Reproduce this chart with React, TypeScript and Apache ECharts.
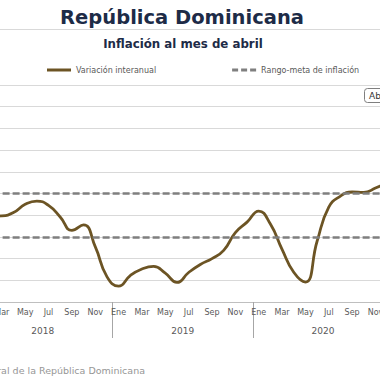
import React, { useEffect, useRef } from 'react';
import * as echarts from 'echarts';

const YEARS = ['2018', '2019', '2020'];
const MONTHS = ['Ene', 'Feb', 'Mar', 'Abr', 'May', 'Jun', 'Jul', 'Ago', 'Sep', 'Oct', 'Nov', 'Dic'];

const INFLATION_2018 = [4.1, 3.95, 3.97, 4.12, 4.5, 4.65, 4.45, 3.92, 3.3, 3.55, 2.55, 1.17];
const INFLATION_2019 = [0.73, 1.22, 1.52, 1.64, 1.33, 0.9, 1.36, 1.73, 2.0, 2.38, 3.2, 3.68];
const INFLATION_2020 = [4.19, 3.59, 2.43, 1.37, 0.92, 2.8, 4.37, 4.88, 5.07, 5.05, 5.25, 5.5];

const TARGET_UPPER = 5;
const TARGET_LOWER = 3;

const Y_MIN = 0;
const Y_MAX = 10;
const Y_STEP = 1;

const TITLE = 'República Dominicana';
const SUBTITLE = 'Inflación al mes de abril';
const SOURCE = 'Fuente: Banco Central de la República Dominicana';
const SERIES_MAIN = 'Variación interanual';
const SERIES_TARGET = 'Rango-meta de inflación';

const FONT = '"DejaVu Sans", sans-serif';
const NAVY = '#1d2b47';
const BROWN = '#6c5424';
const GRAY_TEXT = '#595959';

// the chart canvas is wider than the window and shifted left (cropped view)
const SHIFT = 32;
const CHART_W = 425;

export default function App() {
  const ref = useRef<HTMLDivElement>(null);

  useEffect(() => {
    if (!ref.current) return;
    const chart = echarts.init(ref.current, undefined, { renderer: 'svg' });

    const categories: string[] = [];
    YEARS.forEach(() => MONTHS.forEach((m) => categories.push(m)));
    const values = [...INFLATION_2018, ...INFLATION_2019, ...INFLATION_2020];

    chart.setOption({
      animation: false,
      backgroundColor: '#ffffff',
      textStyle: { fontFamily: FONT },
      legend: {
        left: 47 + SHIFT,
        top: 66,
        padding: 0,
        itemWidth: 24,
        itemHeight: 3,
        itemGap: 76,
        textStyle: { fontFamily: FONT, fontSize: 8, color: GRAY_TEXT },
        data: [
          { name: SERIES_MAIN, icon: 'path://M0,0H24V3H0Z' },
          { name: SERIES_TARGET, icon: 'path://M0,0H6V3H0Z M9,0H15V3H9Z M18,0H24V3H18Z' },
        ],
      },
      grid: { left: 0, right: 0, top: 85, bottom: 78 },
      xAxis: [
        {
          type: 'category',
          data: categories,
          boundaryGap: true,
          axisLine: { show: true, lineStyle: { color: '#bfbfbf', width: 1 } },
          axisTick: { show: false },
          axisLabel: {
            interval: 1,
            margin: 6,
            fontFamily: FONT,
            fontSize: 8,
            color: GRAY_TEXT,
          },
          splitLine: { show: false },
        },
        {
          type: 'category',
          data: YEARS,
          position: 'bottom',
          boundaryGap: true,
          axisLine: { show: false },
          axisTick: {
            show: true,
            interval: 0,
            length: 36,
            lineStyle: { color: '#a6a6a6', width: 1 },
          },
          axisLabel: {
            interval: 0,
            margin: 24,
            fontFamily: FONT,
            fontSize: 9,
            color: GRAY_TEXT,
          },
          splitLine: { show: false },
        },
      ],
      yAxis: {
        type: 'value',
        min: Y_MIN,
        max: Y_MAX,
        interval: Y_STEP,
        axisLine: { show: false },
        axisTick: { show: false },
        axisLabel: { show: false },
        splitLine: { show: true, lineStyle: { color: '#d9d9d9', width: 1 } },
      },
      series: [
        {
          name: SERIES_TARGET,
          type: 'line',
          data: [],
          symbol: 'none',
          z: 2,
          lineStyle: { color: '#7f7f7f', width: 2.5, type: [6, 3] },
          itemStyle: { color: '#7f7f7f' },
          markLine: {
            silent: true,
            symbol: 'none',
            label: { show: false },
            lineStyle: { color: '#7f7f7f', width: 2.5, type: [7, 3] },
            data: [{ yAxis: TARGET_UPPER }, { yAxis: TARGET_LOWER }],
          },
        },
        {
          name: SERIES_MAIN,
          type: 'line',
          data: values,
          xAxisIndex: 0,
          smooth: 0.5,
          symbol: 'none',
          showSymbol: false,
          z: 3,
          lineStyle: { color: BROWN, width: 2.8 },
          itemStyle: { color: BROWN },
        },
      ],
      graphic: [
        {
          type: 'text',
          x: 182 + SHIFT,
          y: 17,
          style: {
            text: TITLE,
            fill: NAVY,
            fontFamily: FONT,
            fontSize: 19.5,
            fontWeight: 'bold',
            align: 'center',
            textAlign: 'center',
            verticalAlign: 'middle',
            textVerticalAlign: 'middle',
          },
        },
        {
          type: 'line',
          shape: { x1: SHIFT, y1: 29.5, x2: SHIFT + 380, y2: 29.5 },
          style: { stroke: '#d9d9d9', lineWidth: 1 },
        },
        {
          type: 'text',
          x: 183 + SHIFT,
          y: 44,
          style: {
            text: SUBTITLE,
            fill: NAVY,
            fontFamily: FONT,
            fontSize: 11.8,
            fontWeight: 'bold',
            align: 'center',
            textAlign: 'center',
            verticalAlign: 'middle',
            textVerticalAlign: 'middle',
          },
        },
        {
          type: 'rect',
          shape: { x: 364.5 + SHIFT, y: 88.5, width: 30, height: 14, r: 3 },
          style: { fill: '#ffffff', stroke: '#7f7f7f', lineWidth: 1 },
          z: 10,
        },
        {
          type: 'text',
          x: 369 + SHIFT,
          y: 96,
          z: 11,
          style: {
            text: 'Ab',
            fill: '#333333',
            fontFamily: FONT,
            fontSize: 9,
            align: 'left',
            textAlign: 'left',
            verticalAlign: 'middle',
            textVerticalAlign: 'middle',
          },
        },
        {
          type: 'text',
          x: 145 + SHIFT,
          y: 370,
          style: {
            text: SOURCE,
            fill: '#969696',
            fontFamily: FONT,
            fontSize: 9.5,
            align: 'right',
            textAlign: 'right',
            verticalAlign: 'middle',
            textVerticalAlign: 'middle',
          },
        },
      ],
    });

    return () => chart.dispose();
  }, []);

  return (
    <div
      ref={ref}
      style={{ position: 'fixed', left: -SHIFT, top: 0, width: CHART_W, height: 380 }}
    />
  );
}
